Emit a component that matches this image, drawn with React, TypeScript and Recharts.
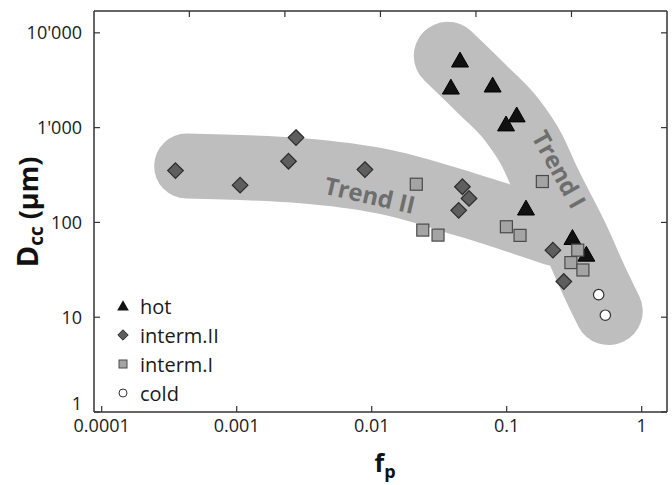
import React from 'react';
import { ComposedChart, Scatter, Line, XAxis, YAxis, Legend, ReferenceDot } from 'recharts';

// ---------- data ----------
const xDomain = [0.0000877, 1.54];
const yDomain = [1, 17000];
const xTicks = [0.0001, 0.001, 0.01, 0.1, 1];
const xTickLabels = ['0.0001', '0.001', '0.01', '0.1', '1'];
const yTicks = [1, 10, 100, 1000, 10000];
const yTickLabels = ['1', '10', '100', "1'000", "10'000"];
// top frame tick marks (unlabelled, evenly spaced in the original figure)
const topTicks = [0.000446, 0.002275, 0.01161, 0.0592, 0.302];
const seriesNames = ['hot', 'interm.II', 'interm.I', 'cold'];

const hot = [
  { x: 0.0451, y: 4920 },
  { x: 0.0386, y: 2550 },
  { x: 0.0787, y: 2680 },
  { x: 0.1186, y: 1297 },
  { x: 0.0989, y: 1042 },
  { x: 0.139, y: 135 },
  { x: 0.307, y: 66 },
  { x: 0.389, y: 44 },
];
const intermII = [
  { x: 0.000352, y: 352 },
  { x: 0.00106, y: 247 },
  { x: 0.00242, y: 442 },
  { x: 0.00275, y: 785 },
  { x: 0.00891, y: 361 },
  { x: 0.047, y: 238 },
  { x: 0.0526, y: 179 },
  { x: 0.0441, y: 134 },
  { x: 0.22, y: 51 },
  { x: 0.265, y: 23.8 },
];
const intermI = [
  { x: 0.0214, y: 253 },
  { x: 0.0239, y: 83 },
  { x: 0.031, y: 73.5 },
  { x: 0.1837, y: 270 },
  { x: 0.0995, y: 90 },
  { x: 0.1256, y: 73 },
  { x: 0.336, y: 51 },
  { x: 0.299, y: 37.7 },
  { x: 0.367, y: 31.5 },
];
const cold = [
  { x: 0.48, y: 17.3 },
  { x: 0.538, y: 10.5 },
];
const trendI = [
  { x: 0.0366, y: 5730 },
  { x: 0.0664, y: 2512 },
  { x: 0.109, y: 1213 },
  { x: 0.153, y: 586 },
  { x: 0.198, y: 264 },
  { x: 0.324, y: 66 },
  { x: 0.449, y: 23.4 },
  { x: 0.57, y: 11.6 },
];
const trendII = [
  { x: 0.000426, y: 393 },
  { x: 0.00293, y: 352 },
  { x: 0.0127, y: 267 },
  { x: 0.0541, y: 149 },
  { x: 0.227, y: 76.6 },
];
const trendLabels = [
  { text: 'Trend I', x: 0.243, y: 361, angle: 61 },
  { text: 'Trend II', x: 0.00966, y: 192, angle: 13 },
];

// ---------- styles ----------
const FONT = '"Open Sans", "DejaVu Sans", sans-serif';
const AXIS = '#333';
const BAND = '#bebebe';

const triangle = (cx: number, cy: number, s: number) =>
  `M${cx},${cy - s * 0.62} L${cx + s * 0.53},${cy + s * 0.31} L${cx - s * 0.53},${cy + s * 0.31} Z`;
const diamond = (cx: number, cy: number, h: number) =>
  `M${cx},${cy - h} L${cx + h},${cy} L${cx},${cy + h} L${cx - h},${cy} Z`;

const HotShape = (p: any) => <path d={triangle(p.cx, p.cy, 16)} fill="#111" stroke="#000" strokeWidth={1} />;
const DiamondShape = (p: any) => <path d={diamond(p.cx, p.cy, 7.8)} fill="#5e5e5e" stroke="#2b2b2b" strokeWidth={1.2} />;
const SquareShape = (p: any) => (
  <rect x={p.cx - 6} y={p.cy - 6} width={12} height={12} fill="#a4a4a4" stroke="#4a4a4a" strokeWidth={1.2} />
);
const CircleShape = (p: any) => <circle cx={p.cx} cy={p.cy} r={5.2} fill="#fff" stroke="#333" strokeWidth={1.2} />;

const legendIcons: Record<string, React.ReactNode> = {
  hot: <path d={triangle(8, 9, 11)} fill="#111" />,
  'interm.II': <path d={diamond(8, 8, 5.2)} fill="#5e5e5e" stroke="#2b2b2b" strokeWidth={1} />,
  'interm.I': <rect x={4} y={4} width={8} height={8} fill="#a4a4a4" stroke="#4a4a4a" strokeWidth={1} />,
  cold: <circle cx={8} cy={8} r={4} fill="#fff" stroke="#333" strokeWidth={1} />,
};

const LegendContent = () => (
  <div style={{ fontFamily: FONT, fontSize: 20, color: '#1a1a1a' }}>
    {seriesNames.map((name) => (
      <div key={name} style={{ display: 'flex', alignItems: 'center', height: 29 }}>
        <svg width={16} height={16} style={{ marginRight: 9 }}>
          {legendIcons[name]}
        </svg>
        <span style={{ lineHeight: '29px' }}>{name}</span>
      </div>
    ))}
  </div>
);

const EmptyTick = () => <g />;

const XTick = (p: any) => {
  const i = xTicks.indexOf(p.payload.value);
  return (
    <text x={p.x} y={p.y} dy="0.71em" textAnchor="middle" fontFamily={FONT} fontSize={18} fill="#1a1a1a">
      {xTickLabels[i]}
    </text>
  );
};
const YTick = (p: any) => {
  const i = yTicks.indexOf(p.payload.value);
  const shift = p.payload.value === 1 ? -8 : 0;
  return (
    <text x={p.x} y={p.y + shift} dy="0.35em" textAnchor="end" fontFamily={FONT} fontSize={18} fill="#1a1a1a">
      {yTickLabels[i]}
    </text>
  );
};

const XLabel = () => (
  <text x={385} y={472} textAnchor="middle" fontFamily={FONT} fontWeight="bold" fontSize={25} fill="#111">
    f<tspan fontSize={18} dy={6}>p</tspan>
  </text>
);
const YLabel = () => (
  <text
    transform="translate(38,212) rotate(-90)"
    textAnchor="middle"
    fontFamily={FONT}
    fontWeight="bold"
    fontSize={29}
    fill="#111"
  >
    D<tspan fontSize={19} dy={5}>cc</tspan>
    <tspan fontSize={27} dy={-5}> (µm)</tspan>
  </text>
);

const TrendLabel = (text: string, angle: number) => (p: any) => (
  <text
    transform={`translate(${p.cx},${p.cy}) rotate(${angle})`}
    textAnchor="middle"
    dy="0.35em"
    fontFamily={FONT}
    fontWeight="bold"
    fontSize={24}
    fill="#6e6e6e"
  >
    {text}
  </text>
);

export default function App() {
  return (
    <div style={{ position: 'absolute', left: 0, top: 0, width: 672, height: 485, background: '#fff' }}>
      <ComposedChart width={672} height={485} margin={{ top: 0, right: 4, bottom: 0, left: 0 }}>
        <XAxis
          xAxisId="main"
          dataKey="x"
          type="number"
          scale="log"
          domain={xDomain}
          allowDataOverflow
          ticks={xTicks}
          interval={0}
          height={73}
          tickSize={-6}
          tickMargin={13}
          tick={<XTick />}
          axisLine={{ stroke: AXIS, strokeWidth: 1.5 }}
          tickLine={{ stroke: AXIS, strokeWidth: 1.2 }}
          label={<XLabel />}
        />
        <XAxis
          xAxisId="top"
          orientation="top"
          dataKey="x"
          type="number"
          scale="log"
          domain={xDomain}
          allowDataOverflow
          ticks={topTicks}
          interval={0}
          height={11}
          tickSize={-6}
          tick={<EmptyTick />}
          axisLine={{ stroke: AXIS, strokeWidth: 1.5 }}
          tickLine={{ stroke: AXIS, strokeWidth: 1.2 }}
        />
        <YAxis
          yAxisId="main"
          dataKey="y"
          type="number"
          scale="log"
          domain={yDomain}
          allowDataOverflow
          ticks={yTicks}
          interval={0}
          width={94}
          tickSize={-6}
          tickMargin={18}
          tick={<YTick />}
          axisLine={{ stroke: AXIS, strokeWidth: 1.5 }}
          tickLine={{ stroke: AXIS, strokeWidth: 1.2 }}
          label={<YLabel />}
        />
        <YAxis
          yAxisId="right"
          orientation="right"
          type="number"
          scale="log"
          domain={yDomain}
          allowDataOverflow
          ticks={yTicks}
          interval={0}
          width={1}
          tickSize={-6}
          tick={<EmptyTick />}
          axisLine={{ stroke: AXIS, strokeWidth: 1.5 }}
          tickLine={{ stroke: AXIS, strokeWidth: 1.2 }}
        />
        <Line
          xAxisId="top"
          yAxisId="main"
          data={trendII}
          dataKey="y"
          type="monotone"
          stroke={BAND}
          strokeWidth={65}
          strokeLinecap="round"
          strokeLinejoin="round"
          dot={false}
          activeDot={false}
          legendType="none"
          isAnimationActive={false}
        />
        <Line
          xAxisId="top"
          yAxisId="main"
          data={trendI}
          dataKey="y"
          type="monotone"
          stroke={BAND}
          strokeWidth={68}
          strokeLinecap="round"
          strokeLinejoin="round"
          dot={false}
          activeDot={false}
          legendType="none"
          isAnimationActive={false}
        />
        {trendLabels.map((t) => (
          <ReferenceDot
            key={t.text}
            xAxisId="main"
            yAxisId="main"
            x={t.x}
            y={t.y}
            r={0}
            shape={TrendLabel(t.text, t.angle)}
          />
        ))}
        <Scatter name="hot" xAxisId="main" yAxisId="main" data={hot} shape={HotShape} isAnimationActive={false} />
        <Scatter name="interm.II" xAxisId="main" yAxisId="main" data={intermII} shape={DiamondShape} isAnimationActive={false} />
        <Scatter name="interm.I" xAxisId="main" yAxisId="main" data={intermI} shape={SquareShape} isAnimationActive={false} />
        <Scatter name="cold" xAxisId="main" yAxisId="main" data={cold} shape={CircleShape} isAnimationActive={false} />
        <Legend
          layout="vertical"
          align="center"
          verticalAlign="middle"
          content={<LegendContent />}
          wrapperStyle={{ left: 115, top: 291.5, width: 'auto', height: 'auto' }}
        />
      </ComposedChart>
    </div>
  );
}
